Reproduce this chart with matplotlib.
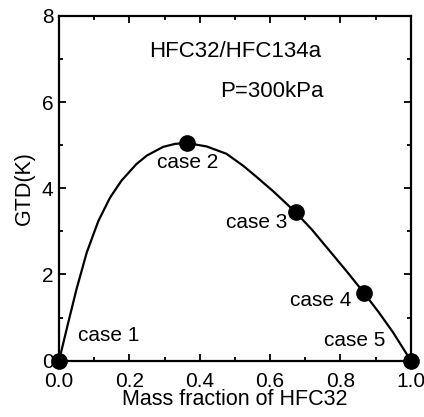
import matplotlib
matplotlib.use("Agg")
import matplotlib.pyplot as plt
from matplotlib.ticker import MultipleLocator, FormatStrFormatter

plt.rcParams['font.family'] = ['Liberation Sans', 'DejaVu Sans']

# curve
curve_x = [0.0, 0.008, 0.026, 0.05, 0.079, 0.112, 0.145, 0.178, 0.22, 0.25, 0.296, 0.33, 0.363,
           0.42, 0.476, 0.524, 0.562, 0.609, 0.673, 0.72, 0.77, 0.82, 0.867, 0.91, 0.95, 1.0]
curve_y = [0.0, 0.26, 0.87, 1.66, 2.51, 3.24, 3.78, 4.18, 4.56, 4.76, 4.96, 5.03, 5.05,
           4.97, 4.80, 4.52, 4.26, 3.93, 3.44, 3.03, 2.54, 2.05, 1.57, 1.11, 0.65, 0.0]

# case points
case_x = [0.0, 0.363, 0.673, 0.867, 1.0]
case_y = [0.0, 5.04, 3.44, 1.57, 0.0]
case_labels = ["case 1", "case 2", "case 3", "case 4", "case 5"]
label_pos = [(0.054, 0.58, 'left'), (0.367, 4.6, 'center'), (0.563, 3.21, 'center'),
             (0.744, 1.39, 'center'), (0.84, 0.46, 'center')]

fig = plt.figure(figsize=(4.24, 4.17), dpi=100)
ax = fig.add_axes([0.139, 0.135, 0.830, 0.827])

ax.plot(curve_x, curve_y, color='black', lw=1.6, solid_joinstyle='round')
ax.plot(case_x, case_y, 'o', color='black', ms=11, clip_on=False, zorder=5)

for lab, (lx, ly, ha) in zip(case_labels, label_pos):
    ax.text(lx, ly, lab, ha=ha, va='center', fontsize=15)

ax.text(0.5, 7.17, "HFC32/HFC134a", ha='center', va='center', fontsize=16)
ax.text(0.606, 6.24, "P=300kPa", ha='center', va='center', fontsize=16)

ax.set_xlim(0, 1.0)
ax.set_ylim(0, 8)
ax.xaxis.set_major_locator(MultipleLocator(0.2))
ax.xaxis.set_minor_locator(MultipleLocator(0.1))
ax.yaxis.set_major_locator(MultipleLocator(2))
ax.yaxis.set_minor_locator(MultipleLocator(1))
ax.xaxis.set_major_formatter(FormatStrFormatter('%.1f'))
ax.yaxis.set_major_formatter(FormatStrFormatter('%d'))

ax.tick_params(which='both', direction='in', top=True, right=True, width=1.3, labelsize=15)
ax.tick_params(axis='x', which='major', pad=8)
ax.tick_params(axis='y', which='major', pad=4)
ax.tick_params(which='major', length=5)
ax.tick_params(which='minor', length=3)
for s in ax.spines.values():
    s.set_linewidth(1.6)

ax.set_xlabel("Mass fraction of HFC32", fontsize=15.5, labelpad=-1)
ax.set_ylabel("GTD(K)", fontsize=15.5, labelpad=5)

fig.savefig("out.png", dpi=100)
